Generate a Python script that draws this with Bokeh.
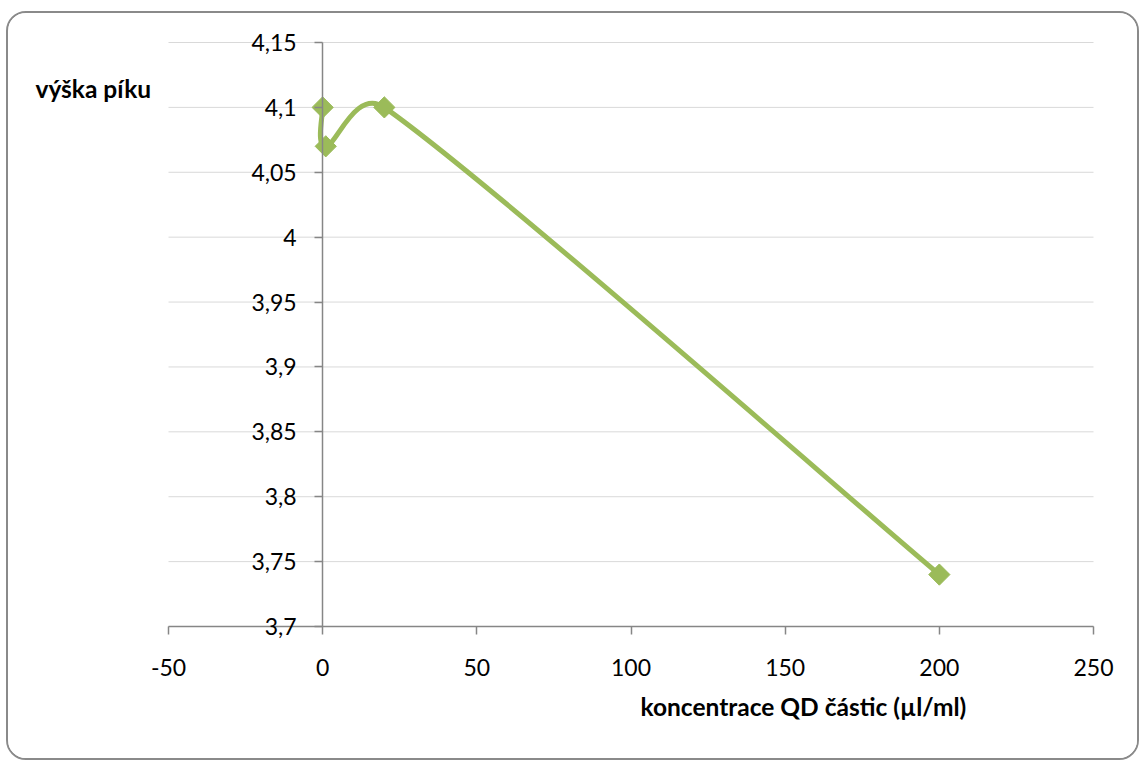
import numpy as np
from bokeh.plotting import figure
from bokeh.models import Range1d, Label, FixedTicker
from bokeh.embed import file_html
from bokeh.resources import INLINE

# Measured peak height versus QD particle concentration
conc = [0, 1, 20, 200]
peak = [4.1, 4.07, 4.1, 3.74]

x_ticks = [-50, 0, 50, 100, 150, 200, 250]
x_tick_labels = ["-50", "0", "50", "100", "150", "200", "250"]
y_ticks = [3.7, 3.75, 3.8, 3.85, 3.9, 3.95, 4.0, 4.05, 4.1, 4.15]
y_tick_labels = ["3,7", "3,75", "3,8", "3,85", "3,9", "3,95", "4", "4,05", "4,1", "4,15"]

x_title = "koncentrace QD částic (µl/ml)"
y_title = "výška píku"

GREEN = "#9bbb59"
AXIS = "#868686"
GRID = "#d9d9d9"
FONT = "Lato"
TICK_SIZE = "23px"
TITLE_SIZE = "24.5px"

# canvas size and where it sits on the page
W, H = 1133, 749
PAGE_LEFT, PAGE_TOP = 8, 13
# pixel box (page coordinates) of the value area
AREA_L, AREA_R, AREA_T, AREA_B = 168, 1093, 42, 626
X0, X1 = -50, 250
Y0, Y1 = 3.7, 4.15

kx = (AREA_R - AREA_L) / (X1 - X0)
ky = (AREA_B - AREA_T) / (Y1 - Y0)


def px_x(px):
    return X0 + (px - AREA_L) / kx


def px_y(py):
    return Y0 + (AREA_B - py) / ky


# the frame fills the whole canvas so that axis labels and titles are not clipped
x_range = Range1d(px_x(PAGE_LEFT), px_x(PAGE_LEFT + W))
y_range = Range1d(px_y(PAGE_TOP + H), px_y(PAGE_TOP))

p = figure(width=W, height=H, x_range=x_range, y_range=y_range,
           output_backend="svg", toolbar_location=None,
           min_border_left=0, min_border_right=0, min_border_top=0, min_border_bottom=0)
p.styles = {"margin-left": "6px", "margin-top": "11px",
            "border": "2px solid #8a8a8a", "border-radius": "20px", "overflow": "hidden"}
p.outline_line_color = None
p.background_fill_color = "white"
p.border_fill_color = "white"
p.grid.visible = False

# horizontal gridlines across the value area
p.segment(x0=[X0] * len(y_ticks), x1=[X1] * len(y_ticks), y0=y_ticks, y1=y_ticks,
          line_color=GRID, line_width=1)

# x axis along y = 3.7
xa = p.xaxis[0]
xa.fixed_location = Y0
xa.bounds = (X0, X1)
xa.ticker = FixedTicker(ticks=x_ticks)
xa.major_label_overrides = {t: s for t, s in zip(x_ticks, x_tick_labels)}
xa.axis_line_color = AXIS
xa.axis_line_width = 1.5
xa.major_tick_line_color = AXIS
xa.major_tick_line_width = 1.5
xa.major_tick_in = 0
xa.major_tick_out = 8
xa.minor_tick_line_color = None
xa.major_label_text_font = FONT
xa.major_label_text_font_size = TICK_SIZE
xa.major_label_text_color = "#000000"
xa.major_label_standoff = 24

# y axis crossing at x = 0
ya = p.yaxis[0]
ya.fixed_location = 0
ya.bounds = (Y0, Y1)
ya.ticker = FixedTicker(ticks=y_ticks)
ya.major_label_overrides = {t: s for t, s in zip(y_ticks, y_tick_labels)}
ya.axis_line_color = AXIS
ya.axis_line_width = 1.5
ya.major_tick_line_color = AXIS
ya.major_tick_line_width = 1.5
ya.major_tick_in = 0
ya.major_tick_out = 8
ya.minor_tick_line_color = None
ya.major_label_text_font = FONT
ya.major_label_text_font_size = TICK_SIZE
ya.major_label_text_color = "#000000"
ya.major_label_standoff = 18


def smooth_segments(xs, ys, sx, sy):
    """Cubic Bezier pieces through the points, with tangents computed in pixel space."""
    P = np.column_stack([np.asarray(xs, float) * sx, np.asarray(ys, float) * sy])
    n = len(P)
    out = []
    for i in range(n - 1):
        p0 = P[i - 1] if i > 0 else P[i]
        p1, p2 = P[i], P[i + 1]
        p3 = P[i + 2] if i + 2 < n else P[i + 1]
        d12 = np.linalg.norm(p2 - p1)
        d02 = np.linalg.norm(p2 - p0)
        d13 = np.linalg.norm(p3 - p1)
        f0 = 1 / 6 if d02 / 6 < d12 / 2 else d12 / (2 * d02)
        f1 = 1 / 6 if d13 / 6 < d12 / 2 else d12 / (2 * d13)
        c1 = p1 + (p2 - p0) * f0
        c2 = p2 - (p3 - p1) * f1
        out.append([p1, c1, c2, p2])
    arr = np.array(out)
    arr[..., 0] /= sx
    arr[..., 1] /= sy
    return arr


seg = smooth_segments(conc, peak, kx, ky)

p.bezier(x0=seg[:, 0, 0], y0=seg[:, 0, 1], cx0=seg[:, 1, 0], cy0=seg[:, 1, 1],
         cx1=seg[:, 2, 0], cy1=seg[:, 2, 1], x1=seg[:, 3, 0], y1=seg[:, 3, 1],
         line_color=GREEN, line_width=5, line_cap="round")

p.scatter(conc, peak, marker="square", angle=np.pi / 4, size=15,
          fill_color=GREEN, line_color=GREEN)

# axis titles
p.add_layout(Label(x=px_x(35), y=px_y(88), text=y_title, text_font=FONT,
                   text_font_size=TITLE_SIZE, text_font_style="bold", text_color="#000000",
                   text_align="left", text_baseline="middle"))
p.add_layout(Label(x=px_x(640), y=px_y(706), text=x_title, text_font=FONT,
                   text_font_size=TITLE_SIZE, text_font_style="bold", text_color="#000000",
                   text_align="left", text_baseline="middle"))

open("out.html", "w").write(file_html(p, INLINE))
